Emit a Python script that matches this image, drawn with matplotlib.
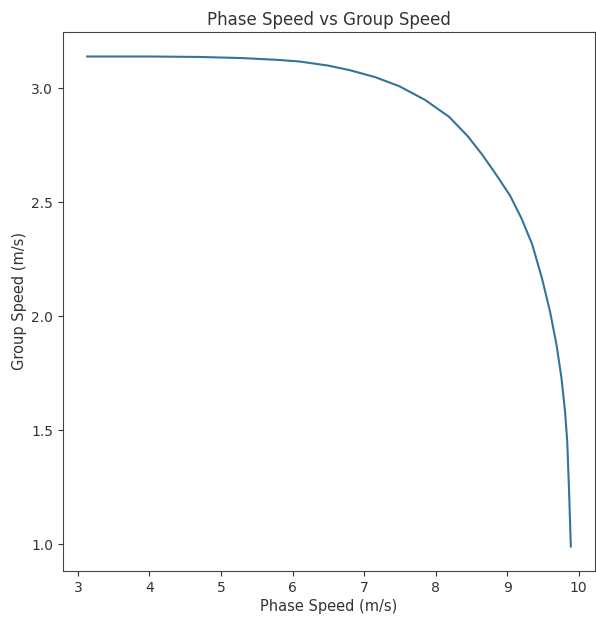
import matplotlib
matplotlib.use("Agg")
import matplotlib.pyplot as plt

# ── Data ──────────────────────────────────────────────────────────────────────
phase_speed = [3.13, 4.0, 4.7, 5.3, 5.8, 6.1, 6.5, 6.8, 7.15, 7.49,
               7.85, 8.19, 8.45, 8.65, 8.85, 9.04, 9.2, 9.35, 9.485, 9.6,
               9.69, 9.76, 9.81, 9.84, 9.865, 9.89]
group_speed = [3.14, 3.14, 3.138, 3.133, 3.125, 3.118, 3.10, 3.08, 3.05, 3.01,
               2.95, 2.875, 2.79, 2.71, 2.62, 2.53, 2.43, 2.316, 2.169, 2.02,
               1.875, 1.728, 1.58, 1.45, 1.24, 0.99]

# ── Style ─────────────────────────────────────────────────────────────────────
plt.rcParams.update({
    "font.family": "DejaVu Sans",
    "font.size": 10.5,
    "text.color": "#333333",
    "axes.labelcolor": "#333333",
    "xtick.color": "#333333",
    "ytick.color": "#333333",
    "axes.edgecolor": "#444444",
})

fig = plt.figure(figsize=(5.96, 6.2), dpi=100)
ax = fig.add_axes([63 / 596, 1 - 571 / 620, (595 - 63) / 596, (571 - 32) / 620])

ax.plot(phase_speed, group_speed, color="#33749c", lw=1.5)

ax.set_xticks([3, 4, 5, 6, 7, 8, 9, 10])
ax.set_yticks([1.0, 1.5, 2.0, 2.5, 3.0])
ax.tick_params(labelsize=10)
ax.set_xlabel("Phase Speed (m/s)", labelpad=3)
ax.set_ylabel("Group Speed (m/s)", labelpad=3)
ax.set_title("Phase Speed vs Group Speed", fontsize=12, pad=5)

fig.savefig("out.png", dpi=100)
